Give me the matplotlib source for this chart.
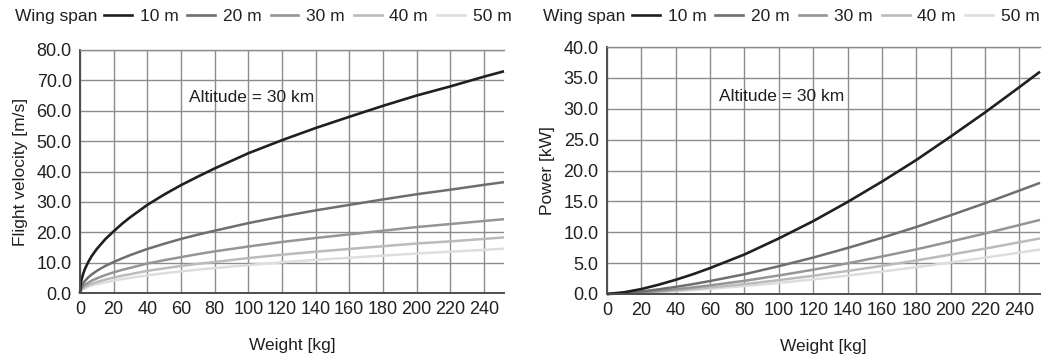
import matplotlib
matplotlib.use("Agg")
import matplotlib.pyplot as plt
from matplotlib.lines import Line2D

plt.rcParams["font.family"] = ["Liberation Sans", "DejaVu Sans"]
plt.rcParams["font.size"] = 12.5

# ---- data (altitude 30 km) ----
spans = ["10 m", "20 m", "30 m", "40 m", "50 m"]
colors = ["#231f20", "#6d6e71", "#939598", "#b9bbbd", "#dcdddf"]

w_vel = [0, 0.5, 1, 2, 3, 5, 7, 10, 15, 20, 25, 30, 40, 50, 60, 70, 80,
         100, 120, 140, 160, 180, 200, 220, 240, 252]
vel_10 = [0, 3.3, 4.6, 6.5, 8.0, 10.3, 12.2, 14.5, 17.7, 20.3, 22.8, 25.0, 29.0, 32.4, 35.5, 38.3, 41.0,
          46.0, 50.3, 54.3, 58.0, 61.6, 65.0, 68.0, 71.2, 73.0]
vel_20 = [0, 1.65, 2.3, 3.3, 4.0, 5.2, 6.1, 7.3, 8.9, 10.2, 11.4, 12.5, 14.5, 16.2, 17.8, 19.2, 20.5,
          23.0, 25.2, 27.2, 29.0, 30.8, 32.5, 34.0, 35.6, 36.5]
vel_30 = [0, 1.1, 1.5, 2.2, 2.7, 3.4, 4.1, 4.8, 5.9, 6.8, 7.6, 8.3, 9.7, 10.8, 11.8, 12.8, 13.7,
          15.3, 16.8, 18.1, 19.3, 20.5, 21.7, 22.7, 23.7, 24.3]
vel_40 = [0, 0.8, 1.15, 1.6, 2.0, 2.6, 3.05, 3.6, 4.4, 5.1, 5.7, 6.2, 7.3, 8.1, 8.9, 9.6, 10.2,
          11.5, 12.6, 13.6, 14.5, 15.4, 16.3, 17.0, 17.8, 18.3]
vel_50 = [0, 0.65, 0.9, 1.3, 1.6, 2.1, 2.45, 2.9, 3.5, 4.1, 4.6, 5.0, 5.8, 6.5, 7.1, 7.7, 8.2,
          9.2, 10.1, 10.9, 11.6, 12.3, 13.0, 13.6, 14.2, 14.6]

w_pow = [0, 10, 20, 30, 40, 50, 60, 70, 80, 100, 120, 140, 160, 180, 200, 220, 240, 252]
pow_10 = [0, 0.28, 0.8, 1.5, 2.3, 3.2, 4.2, 5.3, 6.4, 9.0, 11.8, 14.9, 18.2, 21.7, 25.5, 29.4, 33.5, 36.0]
pow_20 = [0, 0.14, 0.4, 0.75, 1.15, 1.6, 2.1, 2.65, 3.2, 4.5, 5.9, 7.45, 9.1, 10.85, 12.75, 14.7, 16.75, 18.0]
pow_30 = [0, 0.09, 0.27, 0.5, 0.77, 1.07, 1.4, 1.77, 2.13, 3.0, 3.93, 4.97, 6.07, 7.23, 8.5, 9.8, 11.17, 12.0]
pow_40 = [0, 0.07, 0.2, 0.38, 0.58, 0.8, 1.05, 1.33, 1.6, 2.25, 2.95, 3.73, 4.55, 5.43, 6.38, 7.35, 8.38, 9.0]
pow_50 = [0, 0.056, 0.16, 0.3, 0.46, 0.64, 0.84, 1.06, 1.28, 1.8, 2.36, 2.98, 3.64, 4.34, 5.1, 5.88, 6.7, 7.2]

vel = [vel_10, vel_20, vel_30, vel_40, vel_50]
pw = [pow_10, pow_20, pow_30, pow_40, pow_50]

xticks = list(range(0, 241, 20))
txt = "#231f20"
grid_c = "#8c8c8c"

fig = plt.figure(figsize=(10.42, 3.54), dpi=100)
W, H = 1042, 354
ax1 = fig.add_axes([80 / W, 1 - 293 / H, (504 - 80) / W, (293 - 50) / H])
ax2 = fig.add_axes([607 / W, 1 - 294 / H, (1040 - 607) / W, (294 - 47) / H])


def style(ax, ymax, ystep, ylabel):
    ax.set_xlim(0, 252)
    ax.set_ylim(0, ymax)
    ax.set_xticks(xticks)
    yt = [i * ystep for i in range(int(round(ymax / ystep)) + 1)]
    ax.set_yticks(yt)
    ax.set_yticklabels([f"{v:.1f}" for v in yt])
    ax.grid(True, color=grid_c, lw=1.0)
    ax.set_axisbelow(True)
    ax.spines["right"].set_visible(False)
    ax.spines["top"].set_color(grid_c)
    ax.spines["top"].set_linewidth(1.0)
    for s in ("left", "bottom"):
        ax.spines[s].set_color("#4d4d4f")
        ax.spines[s].set_linewidth(1.4)
    ax.tick_params(length=0, colors=txt, labelsize=13)
    ax.tick_params(axis="y", pad=6)
    ax.tick_params(axis="x", pad=6)
    ax.set_xlabel("Weight [kg]", color=txt, labelpad=14)
    ax.set_ylabel(ylabel, color=txt, labelpad=6)


for ax, xs, ys in ((ax1, w_vel, vel), (ax2, w_pow, pw)):
    # draw lightest first so the dark lines sit on top
    for y, c, lab in reversed(list(zip(ys, colors, spans))):
        ax.plot(xs, y, color=c, lw=1.9 if c == colors[0] else 1.8, label=lab,
                solid_capstyle="butt", clip_on=False)

style(ax1, 80, 10, "Flight velocity [m/s]")
style(ax2, 40, 5, "Power [kW]")

ax1.text(65, 64.5, "Altitude = 30 km", va="center", color=txt)
ax2.text(65, 32, "Altitude = 30 km", va="center", color=txt)

handles = [Line2D([], [], color=c, lw=1.9) for c in colors]
for x0, x1 in ((15, 104), (543, 632)):
    fig.text(x0 / W, 1 - 16 / H, "Wing span", va="center", ha="left", color=txt)
    fig.legend(handles, spans, loc="center left", bbox_to_anchor=(x1 / W, 1 - 16 / H),
               ncol=5, frameon=False, handlelength=1.6, handletextpad=0.45,
               columnspacing=0.52, borderpad=0, borderaxespad=0, labelcolor=txt)

fig.savefig("out.png", dpi=100)
